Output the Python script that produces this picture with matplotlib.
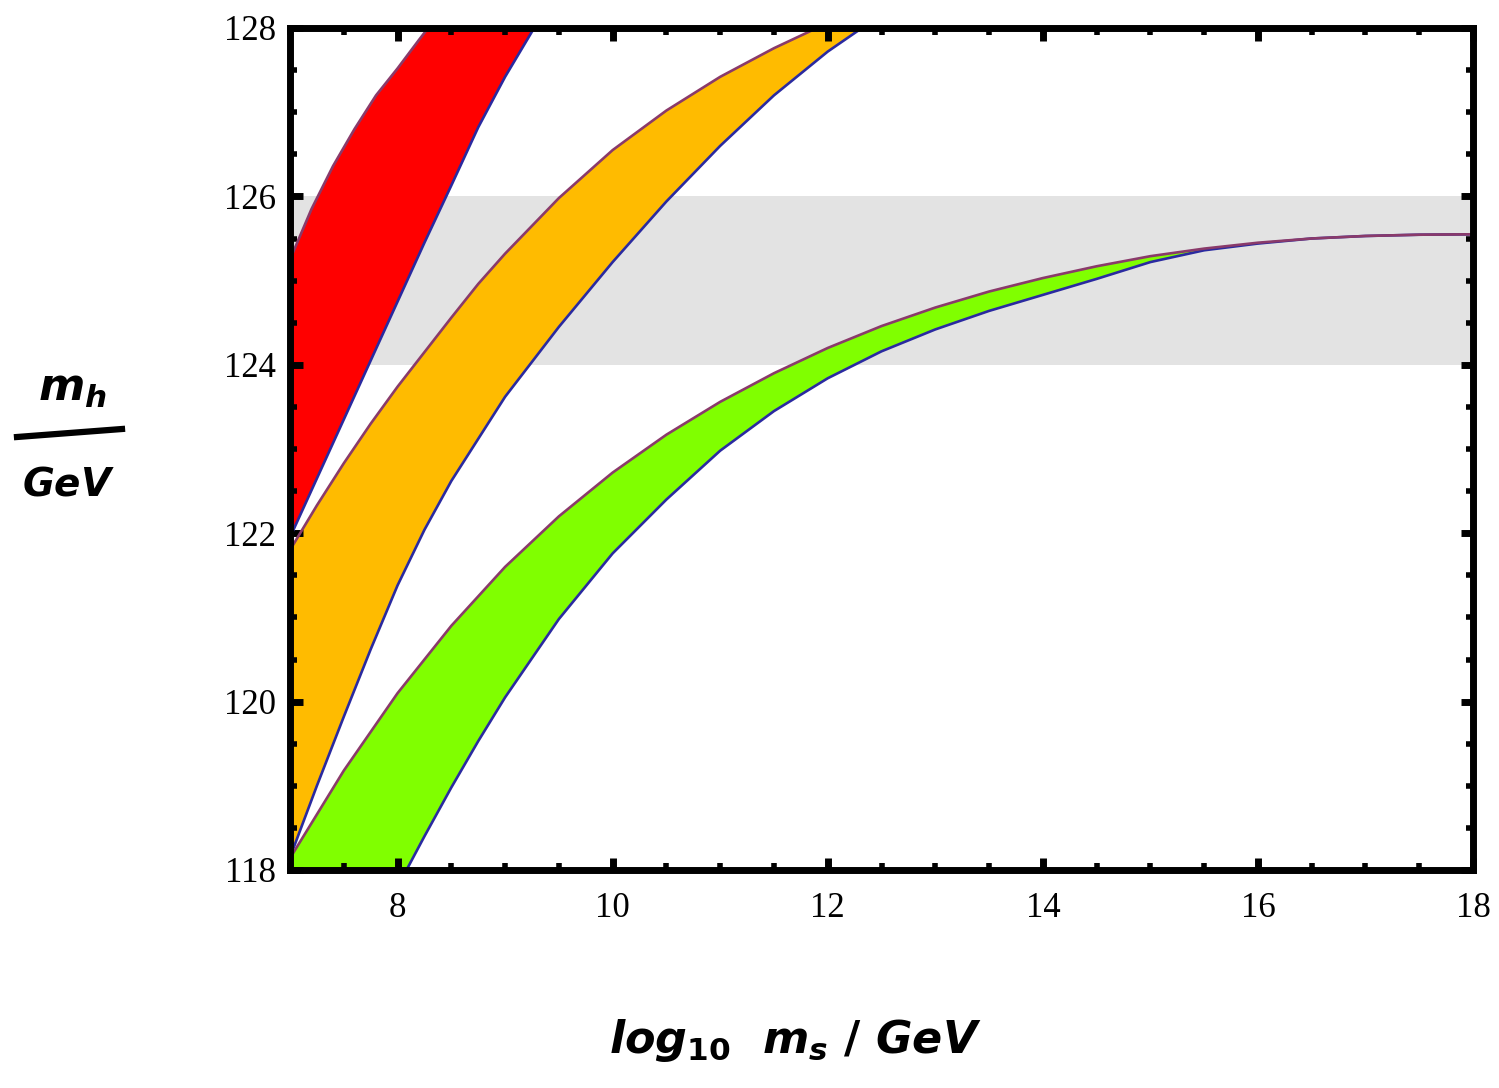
import numpy as np
import matplotlib
matplotlib.use("Agg")
import matplotlib.pyplot as plt
from matplotlib.lines import Line2D
from matplotlib.ticker import MultipleLocator

# ---------------- data ----------------
red_upper_x = [7.0, 7.2, 7.4, 7.6, 7.8, 8.0, 8.2, 8.4]
red_upper_y = [125.25, 125.85, 126.36, 126.80, 127.20, 127.52, 127.86, 128.19]
red_lower_x = [7.0, 7.25, 7.5, 7.75, 8.0, 8.25, 8.5, 8.75, 9.0, 9.27, 9.5]
red_lower_y = [121.95, 122.65, 123.35, 124.05, 124.75, 125.45, 126.13, 126.82, 127.42, 128.00, 128.45]

orange_upper_x = [7.0, 7.25, 7.5, 7.75, 8.0, 8.25, 8.5, 8.75, 9.0, 9.5, 10.0, 10.5,
                  11.0, 11.5, 12.0, 12.3]
orange_upper_y = [121.80, 122.33, 122.83, 123.30, 123.74, 124.15, 124.56, 124.96, 125.32, 125.98,
                  126.55, 127.02, 127.42, 127.76, 128.06, 128.22]
orange_lower_x = [7.0, 7.25, 7.5, 7.75, 8.0, 8.25, 8.5, 9.0, 9.5, 10.0, 10.5, 11.0, 11.5, 12.0, 12.5]
orange_lower_y = [118.15, 119.00, 119.82, 120.62, 121.38, 122.04, 122.62, 123.62, 124.45, 125.22,
                  125.94, 126.60, 127.20, 127.72, 128.16]

green_upper_x = [7.0, 7.5, 8.0, 8.5, 9.0, 9.5, 10.0, 10.5, 11.0, 11.5, 12.0, 12.5, 13.0,
                 13.5, 14.0, 14.5, 15.0, 15.5, 16.0, 16.5, 17.0, 17.5, 18.0]
green_upper_y = [118.14, 119.18, 120.10, 120.90, 121.60, 122.20, 122.72, 123.17, 123.56, 123.90,
                 124.20, 124.46, 124.68, 124.87, 125.03, 125.17, 125.29, 125.38, 125.45, 125.50,
                 125.53, 125.545, 125.55]
green_lower_x = [7.0, 7.9, 8.0, 8.25, 8.5, 8.75, 9.0, 9.5, 10.0, 10.5, 11.0, 11.5, 12.0, 12.5,
                 13.0, 13.5, 14.0, 14.5, 15.0, 15.5, 16.0, 16.5, 17.0, 17.5, 18.0]
green_lower_y = [115.50, 117.55, 117.80, 118.40, 118.98, 119.53, 120.05, 120.98, 121.76, 122.40,
                 122.98, 123.45, 123.84, 124.16, 124.42, 124.64, 124.83, 125.02, 125.22, 125.36,
                 125.44, 125.50, 125.53, 125.545, 125.55]

band_lo, band_hi = 124.0, 126.0

x_ticks = [8, 10, 12, 14, 16, 18]
y_ticks = [118, 120, 122, 124, 126, 128]

# ---------------- styling ----------------
W, H = 1499, 1088
fig = plt.figure(figsize=(W / 100, H / 100), dpi=100)
fig.patch.set_facecolor("white")
ax = fig.add_axes([290 / W, (H - 870) / H, (1473 - 290) / W, (870 - 28) / H])

UPPER_C = "#8a3a6a"
LOWER_C = "#2a2aa0"

ax.axhspan(band_lo, band_hi, color="#e3e3e3", zorder=0, lw=0)

bands = [
    (red_upper_x, red_upper_y, red_lower_x, red_lower_y, "#ff0000"),
    (orange_upper_x, orange_upper_y, orange_lower_x, orange_lower_y, "#ffbb00"),
    (green_upper_x, green_upper_y, green_lower_x, green_lower_y, "#80ff00"),
]
for ux, uy, lx, ly, col in bands:
    px = np.concatenate([ux, lx[::-1]])
    py = np.concatenate([uy, ly[::-1]])
    ax.fill(px, py, color=col, lw=0, zorder=1)
    ax.plot(lx, ly, color=LOWER_C, lw=1.9, zorder=2, solid_joinstyle="round")
    ax.plot(ux, uy, color=UPPER_C, lw=1.9, zorder=3, solid_joinstyle="round")

ax.set_xlim(7, 18)
ax.set_ylim(118, 128)
ax.set_xticks(x_ticks)
ax.set_yticks(y_ticks)
ax.set_xticklabels([str(t) for t in x_ticks])
ax.set_yticklabels([str(t) for t in y_ticks])
ax.xaxis.set_minor_locator(MultipleLocator(0.5))
ax.yaxis.set_minor_locator(MultipleLocator(0.5))

for s in ax.spines.values():
    s.set_linewidth(5)
    s.set_color("black")
    s.set_zorder(5)
ax.tick_params(which="both", direction="in", top=True, right=True, color="black")
ax.tick_params(which="major", length=9, width=5)
ax.tick_params(which="minor", length=5, width=4)
ax.tick_params(axis="x", which="major", pad=16)
ax.tick_params(axis="y", which="major", pad=10)
for lab in ax.get_xticklabels() + ax.get_yticklabels():
    lab.set_fontfamily("Liberation Serif")
    lab.set_fontsize(25)

# hand-written style axis labels
plt.rcParams["mathtext.fontset"] = "custom"
plt.rcParams["mathtext.it"] = "DejaVu Sans:italic:bold"
plt.rcParams["mathtext.rm"] = "DejaVu Sans:bold"

fig.text(72 / W, 1 - 388 / H, r"$m_h$", fontsize=32, ha="center", va="center")
fig.add_artist(Line2D([17 / W, 122 / W], [1 - 437 / H, 1 - 429 / H], color="black", lw=4.5))
fig.text(68 / W, 1 - 485 / H, r"$GeV$", fontsize=28, ha="center", va="center")

fig.text(795 / W, 1 - 1040 / H, r"$log_{10}\ \ m_s\ /\ GeV$", fontsize=32,
         ha="center", va="center")

fig.savefig("out.png", dpi=100, facecolor="white")
